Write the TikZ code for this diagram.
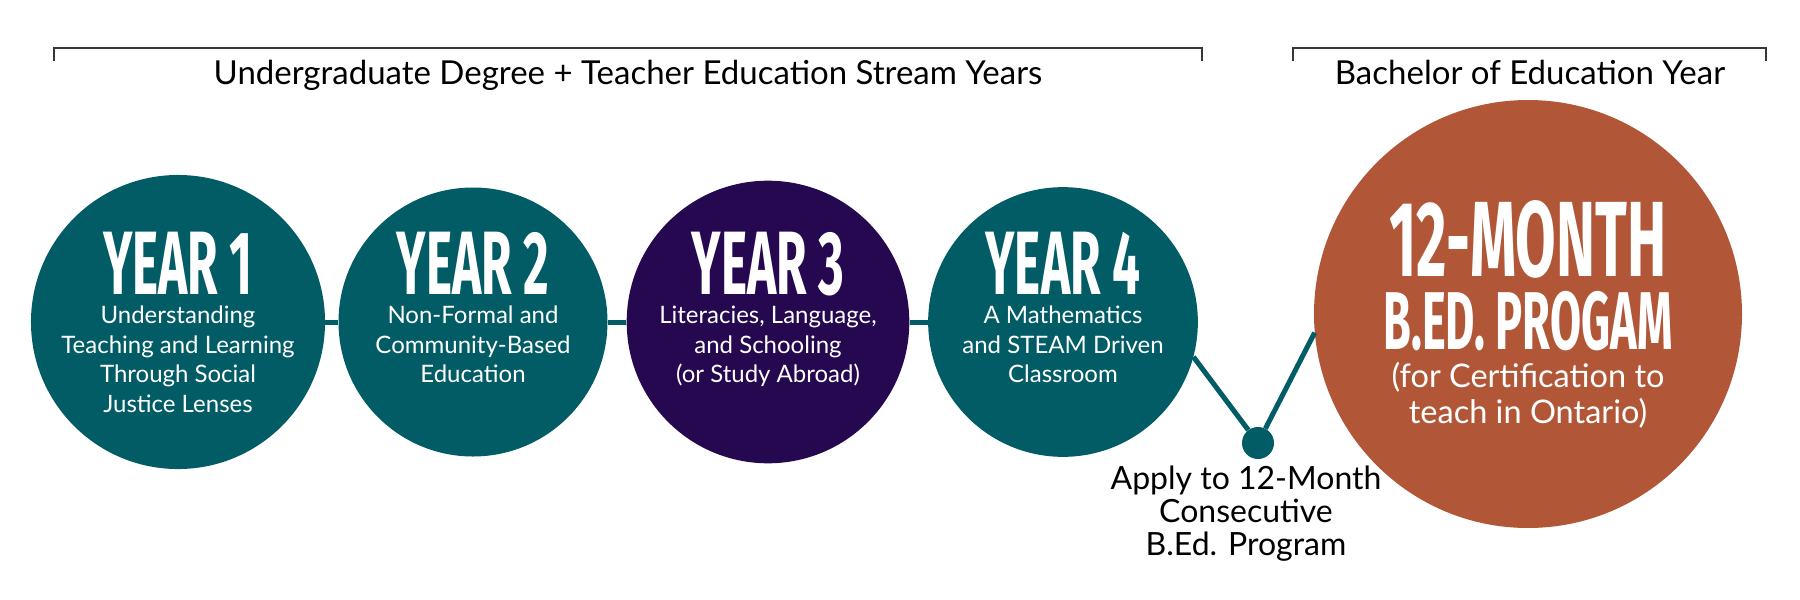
\documentclass[tikz,border=0pt]{standalone}
\usepackage{fontspec}
\setmainfont{Lato}
\newfontfamily\condfont[FakeStretch=0.55]{Fira Sans}
\usetikzlibrary{positioning}

\definecolor{yrteal}{RGB}{2,92,101}
\definecolor{yrpurple}{RGB}{37,8,80}
\definecolor{bedorange}{RGB}{177,87,55}
\definecolor{bracketgray}{RGB}{55,55,55}

\newcommand{\yearfont}{\condfont\bfseries\fontsize{90}{90}\selectfont}
\newcommand{\monthfont}{\condfont\bfseries\fontsize{107}{107}\selectfont}
\newcommand{\bedfont}{\condfont\bfseries\fontsize{82}{82}\selectfont}

\begin{document}
\begin{tikzpicture}[
			x=1pt, y=-1pt,
			yearcirc/.style={circle, fill=yrteal, minimum size=269pt, inner sep=0pt, text=white, align=center, font=\fontsize{24}{29.5}\selectfont},
			progcirc/.style={circle, fill=bedorange, minimum size=428pt, inner sep=0pt, text=white, align=center, font=\fontsize{32.5}{36}\selectfont},
			applydot/.style={circle, fill=yrteal, minimum size=32pt, inner sep=0pt},
			applytext/.style={inner sep=0pt, align=center, font=\fontsize{32}{33}\selectfont},
			heading/.style={inner sep=0pt, anchor=base, font=\fontsize{33}{36}\selectfont},
			link/.style={draw=yrteal, line width=5pt},
			bracket/.style={draw=bracketgray, line width=2pt}
			]
			\useasboundingbox (0,0) rectangle (1800,600);
			
			% Headings
			\draw[bracket] (54,61) |- (1202,48) -- (1202,61);
			\draw[bracket] (1293,61) |- (1766,48) -- (1766,61);
			\node[heading] (ugrad) at (628,84) {Undergraduate Degree + Teacher Education Stream Years};
			\node[heading] (bedyear) at (1530,84) {Bachelor of Education Year};
			
			% Years
			\node[yearcirc] (Y1) at (178,322) {{\yearfont YEAR 1}\\ Understanding\\ Teaching and Learning\\ Through Social\\ Justice Lenses};
			\node[yearcirc] (Y2) at (473,322) {{\yearfont YEAR 2}\\ Non-Formal and\\ Community-Based\\ Education\\ \mbox{}};
			\node[yearcirc, fill=yrpurple] (Y3) at (768,322) {{\yearfont YEAR 3}\\ Literacies, Language,\\ and Schooling\\ (or Study Abroad)\\ \mbox{}};
			\node[yearcirc] (Y4) at (1063,322) {{\yearfont YEAR 4}\\ A Mathematics\\ and STEAM Driven\\ Classroom\\ \mbox{}};
			
			% B.Ed. program
			\node[progcirc] (prog) at (1528,314) {{\monthfont 12-MONTH}\\[12pt] {\bedfont B.ED. PROGAM}\\[2pt] (for Certification to\\ teach in Ontario)};
			
			% Application step
			\node[applydot] (apply) at (1258,443) {};
			\node[applytext, below=7pt of apply, xshift=-12pt] (applylabel) {Apply to 12-Month\\ Consecutive\\ B.Ed. Program};
			
			% Links
			\draw[link] (Y1) -- (Y2);
			\draw[link] (Y2) -- (Y3);
			\draw[link] (Y3) -- (Y4);
			\draw[link] (Y4.-15) -- (apply);
			\draw[link] (apply) -- (prog.185);
			
		\end{tikzpicture}
\end{document}
